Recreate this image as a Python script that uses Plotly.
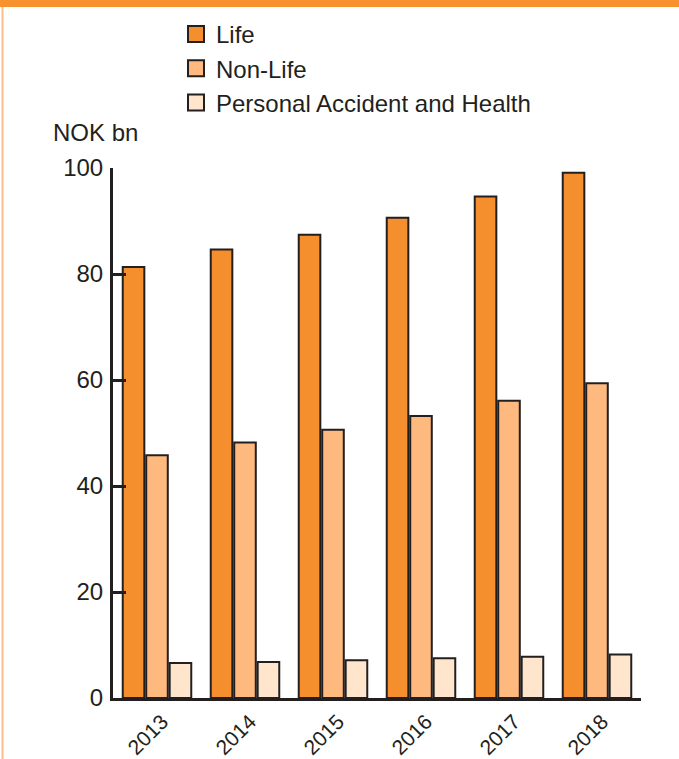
import plotly.graph_objects as go

years = ["2013", "2014", "2015", "2016", "2017", "2018"]
life = [81.3, 84.6, 87.4, 90.6, 94.6, 99.1]
non_life = [45.8, 48.2, 50.6, 53.2, 56.1, 59.4]
pa_health = [6.6, 6.8, 7.1, 7.5, 7.8, 8.2]
series_names = ["Life", "Non-Life", "Personal Accident and Health"]
series_colors = ["#F58F2E", "#FDB97E", "#FEE5CC"]
y_ticks = [0, 20, 40, 60, 80, 100]
y_title = "NOK bn"

W, H = 679, 759
L, R, T, B = 113, 38, 168, 61
PW, PH = W - L - R, H - T - B
INK = "#231f20"
FONT = "Liberation Sans, Arial, sans-serif"


def px_x(px):
    return (px - L) / PW


def px_y(py):
    return (H - B - py) / PH


fig = go.Figure()
for name, vals, col in zip(series_names, [life, non_life, pa_health], series_colors):
    fig.add_trace(go.Bar(
        x=years, y=vals, name=name, showlegend=False,
        marker=dict(color=col, line=dict(color=INK, width=2)),
    ))
# legend proxies (no data drawn)
for i, (name, col) in enumerate(zip(series_names, series_colors)):
    fig.add_trace(go.Scatter(
        x=[None], y=[None], mode="markers", name=name, legendgroup=name,
        marker=dict(symbol="square", size=20, color=col, line=dict(color=INK, width=2)),
    ))

fig.update_layout(
    width=W, height=H,
    margin=dict(l=L, r=R, t=T, b=B, autoexpand=False),
    paper_bgcolor="white", plot_bgcolor="white",
    barmode="group", bargap=0.2, bargroupgap=0.08,
    font=dict(family=FONT, color=INK, size=22),
    legend=dict(
        x=px_x(176), y=px_y(12), xanchor="left", yanchor="top",
        font=dict(size=24, color=INK, family=FONT),
        bgcolor="rgba(0,0,0,0)", tracegroupgap=6, itemsizing="trace",
        traceorder="normal",
    ),
    xaxis=dict(
        type="category", range=[-0.5, 5.5], showline=True, linecolor=INK, linewidth=3,
        ticks="", tickangle=-45, showgrid=False, zeroline=False, ticklabelshift=5,
        tickfont=dict(size=21, color=INK, family=FONT),
    ),
    yaxis=dict(
        range=[0, 100], tickvals=y_ticks, showline=True, linecolor=INK, linewidth=3,
        ticks="inside", ticklen=13, tickwidth=3, tickcolor=INK,
        showgrid=False, zeroline=False, ticklabelstandoff=2,
        tickfont=dict(size=24, color=INK, family=FONT),
    ),
    annotations=[dict(
        text=y_title, xref="paper", yref="paper", x=px_x(51), y=px_y(133),
        xanchor="left", yanchor="middle", showarrow=False,
        font=dict(size=24, color=INK, family=FONT),
    )],
    shapes=[
        dict(type="rect", xref="paper", yref="paper", x0=px_x(0), x1=px_x(W),
             y0=px_y(0), y1=px_y(7), fillcolor="#F7922F", line=dict(width=0), layer="above"),
        dict(type="line", xref="paper", yref="paper", x0=px_x(2.5), x1=px_x(2.5),
             y0=px_y(7), y1=px_y(H), line=dict(color="#F9C08A", width=2)),
    ],
)

fig.write_html("out.html")
